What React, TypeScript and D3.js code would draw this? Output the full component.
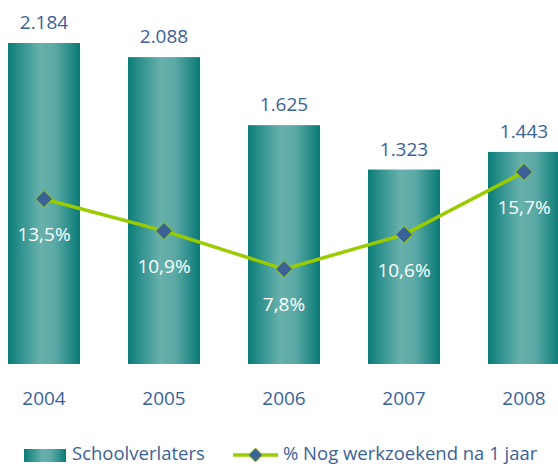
import React from "react";
import * as d3 from "d3";

const years = ["2004", "2005", "2006", "2007", "2008"];
const schoolverlaters = [2184, 2088, 1625, 1323, 1443];
const werkzoekend = [13.5, 10.9, 7.8, 10.6, 15.7];
const barLabels = ["2.184", "2.088", "1.625", "1.323", "1.443"];
const pctLabels = ["13,5%", "10,9%", "7,8%", "10,6%", "15,7%"];
const legendLabels = ["Schoolverlaters", "% Nog werkzoekend na 1 jaar"];

const W = 558;
const H = 466;
const FONT = "'Open Sans', 'Noto Sans', sans-serif";
const BLUE = "#3b6296";
const GREEN = "#99cc00";

export default function App() {
  const x = d3.scaleBand<string>().domain(years).range([-16, 584]).paddingInner(0.4).paddingOuter(0.2);
  const y = d3.scaleLinear().domain([0, 2184]).range([364, 43]);
  const y2 = d3.scaleLinear().domain([0, 25]).range([365, 57.5]);
  const cx = (i: number) => (x(years[i]) as number) + x.bandwidth() / 2;
  const line = d3
    .line<number>()
    .x((_, i) => cx(i))
    .y((d) => y2(d));
  const diamond = (px: number, py: number, r: number) =>
    `M${px},${py - r}L${px + r},${py}L${px},${py + r}L${px - r},${py}Z`;

  return (
    <svg
      width={W}
      height={H}
      style={{ position: "absolute", left: 0, top: 0 }}
      fontFamily={FONT}
    >
      <defs>
        <linearGradient id="barGrad" x1="0" x2="1" y1="0" y2="0">
          <stop offset="0%" stopColor="#0b7c77" />
          <stop offset="15%" stopColor="#2a8f8b" />
          <stop offset="45%" stopColor="#68b1ad" />
          <stop offset="65%" stopColor="#5ca9a5" />
          <stop offset="85%" stopColor="#2b8f8b" />
          <stop offset="100%" stopColor="#0a7a75" />
        </linearGradient>
      </defs>
      <rect width={W} height={H} fill="#ffffff" />
      {schoolverlaters.map((v, i) => (
        <rect
          key={years[i]}
          x={x(years[i])}
          y={y(v)}
          width={x.bandwidth()}
          height={y(0) - y(v)}
          fill="url(#barGrad)"
        />
      ))}
      {schoolverlaters.map((v, i) => (
        <text
          key={"bl" + i}
          x={cx(i)}
          y={y(v) - 14}
          textAnchor="middle"
          fontSize={19}
          fill={BLUE}
        >
          {barLabels[i]}
        </text>
      ))}
      <path d={line(werkzoekend) || ""} fill="none" stroke={GREEN} strokeWidth={3.5} />
      {werkzoekend.map((v, i) => (
        <path
          key={"d" + i}
          d={diamond(cx(i), y2(v), 8.5)}
          fill={BLUE}
          stroke={GREEN}
          strokeWidth={1}
        />
      ))}
      {werkzoekend.map((v, i) => (
        <text
          key={"pl" + i}
          x={cx(i)}
          y={y2(v) + 42}
          textAnchor="middle"
          fontSize={19}
          fill="#ffffff"
        >
          {pctLabels[i]}
        </text>
      ))}
      {years.map((yr, i) => (
        <text
          key={"yr" + i}
          x={cx(i)}
          y={405}
          textAnchor="middle"
          fontSize={19}
          fill={BLUE}
        >
          {yr}
        </text>
      ))}
      <rect x={24} y={449} width={42} height={13} fill="url(#barGrad)" />
      <text x={72} y={460} fontSize={18.5} fill={BLUE}>
        {legendLabels[0]}
      </text>
      <line x1={233} x2={278} y1={455} y2={455} stroke={GREEN} strokeWidth={3.5} />
      <path d={diamond(255.5, 455, 7)} fill={BLUE} stroke={GREEN} strokeWidth={1} />
      <text x={283} y={460} fontSize={18.5} fill={BLUE}>
        {legendLabels[1]}
      </text>
    </svg>
  );
}
